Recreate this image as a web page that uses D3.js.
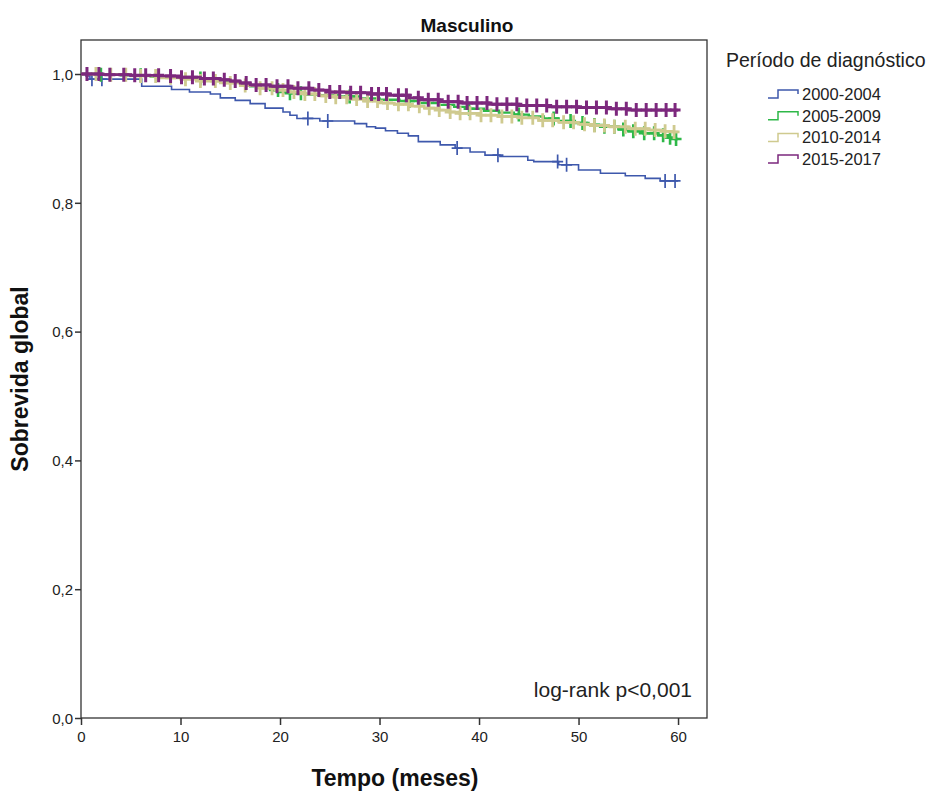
<!DOCTYPE html>
<html>
<head>
<meta charset="utf-8">
<script src="https://cdn.jsdelivr.net/npm/d3@7"></script>
<style>
  html, body { margin: 0; padding: 0; background: #fff; }
  svg { display: block; font-family: "Liberation Sans", Arial, sans-serif; }
</style>
</head>
<body>
<svg id="chart" width="929" height="794"></svg>
<script>
// Kaplan–Meier steps: [time in months, survival after the step]
const periods = ["2000-2004", "2005-2009", "2010-2014", "2015-2017"];
const colors = ["#3e58ac", "#2eb848", "#cfca8f", "#7c287d"];

const steps2000 = [[0,1.000],[0.5,0.997],[0.9,0.992],[6.1,0.981],[9.1,0.976],[10.9,0.972],[13.0,0.969],
  [14.0,0.963],[15.5,0.959],[17.0,0.954],[18.5,0.947],[20.3,0.941],[21.0,0.936],[21.7,0.931],[24.0,0.927],
  [27.5,0.923],[28.7,0.918],[29.6,0.916],[30.6,0.912],[31.8,0.908],[32.9,0.904],[33.9,0.895],[36.1,0.890],
  [37.6,0.885],[39.1,0.879],[40.6,0.874],[42.1,0.872],[44.9,0.866],[45.5,0.864],[48.0,0.859],[50.0,0.851],
  [52.2,0.846],[54.7,0.842],[56.7,0.838],[58.2,0.834]];
const steps2005 = [[0,1.000],[1.5,0.999],[4,0.998],[7,0.996],[9,0.995],[11,0.993],[13,0.991],[14.5,0.988],
  [16,0.984],[17,0.981],[18,0.978],[19,0.975],[20,0.972],[21,0.970],[22.5,0.968],[24,0.967],[26,0.965],
  [28,0.962],[30,0.960],[32,0.958],[34,0.955],[36,0.952],[37.5,0.949],[39,0.946],[40.5,0.943],[42,0.940],
  [43.5,0.937],[45,0.934],[46.5,0.931],[48,0.927],[49.5,0.924],[51,0.921],[52.5,0.918],[54,0.914],[55,0.911],
  [56.5,0.908],[58,0.905],[59,0.901],[59.7,0.899]];
const steps2010 = [[0,1.000],[2,0.999],[5,0.997],[8,0.994],[10,0.992],[12,0.989],[14,0.986],[16,0.982],
  [18,0.978],[19.5,0.975],[21,0.972],[22.5,0.969],[24,0.966],[25.5,0.964],[27,0.961],[28.5,0.958],[30,0.955],
  [31.5,0.953],[33,0.950],[34.5,0.947],[36,0.944],[37,0.941],[38,0.939],[40,0.936],[42,0.934],[44,0.932],
  [46,0.928],[48,0.925],[50,0.922],[51.5,0.920],[53,0.918],[55,0.915],[57,0.913],[58.5,0.911],[59.5,0.910]];
const steps2015 = [[0,1.000],[2,0.999],[5,0.998],[8,0.997],[10,0.995],[12,0.993],[14,0.991],[15,0.989],
  [16,0.986],[17,0.983],[19,0.981],[21,0.978],[23,0.975],[25,0.972],[27,0.971],[29,0.969],[31,0.967],
  [33,0.963],[34,0.960],[36,0.957],[38,0.955],[41,0.953],[44,0.951],[47,0.949],[50,0.948],[53,0.946],[55,0.944]];

// Censored observations (months)
const censor2000 = [1.1, 2.1, 22.8, 24.8, 37.8, 41.9, 47.9, 48.8, 58.7, 59.7];
const censor2005 = [2.0, 6.0, 12.0, 19.8, 21.0, 22.1, 27.0, 33.0, 39.0, 44.0, 47.5, 49.2, 50.4, 51.6,
  52.6, 53.6, 54.5, 55.5, 56.6, 57.6, 58.5, 59.2, 59.8];
const censor2010 = [1.5, 3.0, 4.5, 6.0, 7.5, 9.0, 10.5, 12.0, 13.5, 15.0, 16.5, 18.0, 19.2, 20.3, 21.4,
  22.5, 23.5, 24.6, 25.6, 26.7, 27.7, 28.8, 29.8, 30.8, 31.9, 32.9, 34.0, 35.0, 36.0, 37.1, 38.1, 39.1,
  40.2, 41.2, 42.3, 43.3, 44.3, 45.4, 46.4, 47.4, 48.5, 49.5, 50.6, 51.6, 52.6, 53.6, 54.7, 55.7, 56.7,
  57.7, 58.7, 59.6];
const censor2015 = [0.6, 1.8, 2.9, 4.3, 5.4, 6.5, 7.8, 9.0, 10.1, 11.2, 12.4, 13.3, 14.4, 15.5, 16.6,
  17.6, 18.6, 19.7, 20.8, 21.8, 22.9, 23.9, 25.0, 26.0, 27.1, 28.1, 29.2, 29.9, 30.7, 31.9, 32.7, 33.9,
  34.9, 35.9, 36.9, 37.9, 38.8, 39.8, 40.8, 41.8, 42.8, 43.8, 44.8, 45.8, 46.8, 47.8, 48.8, 49.8, 50.8,
  51.8, 52.8, 53.8, 54.8, 55.8, 56.8, 57.8, 58.8, 59.7];

const xTicks = [0, 10, 20, 30, 40, 50, 60];
const yTicks = [0, 0.2, 0.4, 0.6, 0.8, 1.0];
const endTime = 60;

const series = [
  { name: periods[0], color: colors[0], steps: steps2000, censor: censor2000, w: 1.6, cw: 1.7 },
  { name: periods[1], color: colors[1], steps: steps2005, censor: censor2005, w: 2.4, cw: 2.6 },
  { name: periods[2], color: colors[2], steps: steps2010, censor: censor2010, w: 2.6, cw: 2.8 },
  { name: periods[3], color: colors[3], steps: steps2015, censor: censor2015, w: 2.8, cw: 3 }
];

const svg = d3.select("#chart");
const box = { left: 81, top: 40, right: 707, bottom: 718 };

const x = d3.scaleLinear().domain([0, 62.91]).range([box.left, box.right]);
const y = d3.scaleLinear().domain([0, 1.0528]).range([box.bottom, box.top]);

// Plot frame
svg.append("rect")
  .attr("x", box.left).attr("y", box.top)
  .attr("width", box.right - box.left).attr("height", box.bottom - box.top)
  .attr("fill", "none").attr("stroke", "#333").attr("stroke-width", 1.3);

// Axes
const fmt = d3.format(".1f");
const yAxis = svg.append("g").attr("transform", `translate(${box.left},0)`)
  .call(d3.axisLeft(y).tickValues(yTicks).tickSize(6).tickSizeOuter(0)
    .tickFormat(d => fmt(d).replace(".", ",")));
const xAxis = svg.append("g").attr("transform", `translate(0,${box.bottom})`)
  .call(d3.axisBottom(x).tickValues(xTicks).tickSize(7).tickSizeOuter(0));
[xAxis, yAxis].forEach(a => {
  a.select(".domain").remove();
  a.selectAll(".tick line").attr("stroke", "#333").attr("stroke-width", 1.5);
  a.selectAll(".tick text").attr("fill", "#222").style("font-size", "15px")
    .style("font-family", "'Liberation Sans', Arial, sans-serif");
});
yAxis.selectAll(".tick text").attr("x", -8).attr("dy", "0.35em");
xAxis.selectAll(".tick text").attr("y", 13);

// Survival at a given time from the step table
function survivalAt(steps, t) {
  let s = steps[0][1];
  for (const [ts, v] of steps) { if (ts <= t) s = v; else break; }
  return s;
}

const curves = svg.append("g");
series.forEach(sr => {
  const pts = sr.steps.concat([[endTime, sr.steps[sr.steps.length - 1][1]]]);
  const line = d3.line().x(d => x(d[0])).y(d => y(d[1])).curve(d3.curveStepAfter);
  const g = curves.append("g");
  g.append("path").attr("d", line(pts))
    .attr("fill", "none").attr("stroke", sr.color).attr("stroke-width", sr.w)
    .attr("stroke-linejoin", "miter");
  g.selectAll("path.cen").data(sr.censor).join("path").attr("class", "cen")
    .attr("d", t => {
      const cx = x(t), cy = y(survivalAt(sr.steps, t));
      return `M${cx - 5.5},${cy}H${cx + 5.5}M${cx},${cy - 7}V${cy + 7}`;
    })
    .attr("fill", "none").attr("stroke", sr.color).attr("stroke-width", sr.cw);
});

// Titles
svg.append("text").attr("x", 467).attr("y", 32).attr("text-anchor", "middle")
  .style("font-size", "19px").style("font-weight", "bold").attr("fill", "#111").text("Masculino");
svg.append("text").attr("x", 395).attr("y", 786).attr("text-anchor", "middle")
  .style("font-size", "23px").style("font-weight", "bold").attr("fill", "#111").text("Tempo (meses)");
svg.append("text").attr("transform", "translate(28,379) rotate(-90)").attr("text-anchor", "middle")
  .style("font-size", "23px").style("font-weight", "bold").attr("fill", "#111").text("Sobrevida global");

svg.append("text").attr("x", 692).attr("y", 697).attr("text-anchor", "end")
  .style("font-size", "21px").attr("fill", "#222").text("log-rank p<0,001");

// Legend
const lg = svg.append("g");
lg.append("text").attr("x", 726).attr("y", 67).style("font-size", "19.5px").attr("fill", "#222")
  .text("Período de diagnóstico");
series.forEach((sr, i) => {
  const cy = 94 + i * 21.7;
  lg.append("path")
    .attr("d", `M768,${cy + 4}H778V${cy - 4}H798V${cy}`)
    .attr("fill", "none").attr("stroke", sr.color).attr("stroke-width", 1.5);
  lg.append("text").attr("x", 802).attr("y", cy + 6).style("font-size", "16.5px").attr("fill", "#222")
    .text(sr.name);
});
</script>
</body>
</html>
